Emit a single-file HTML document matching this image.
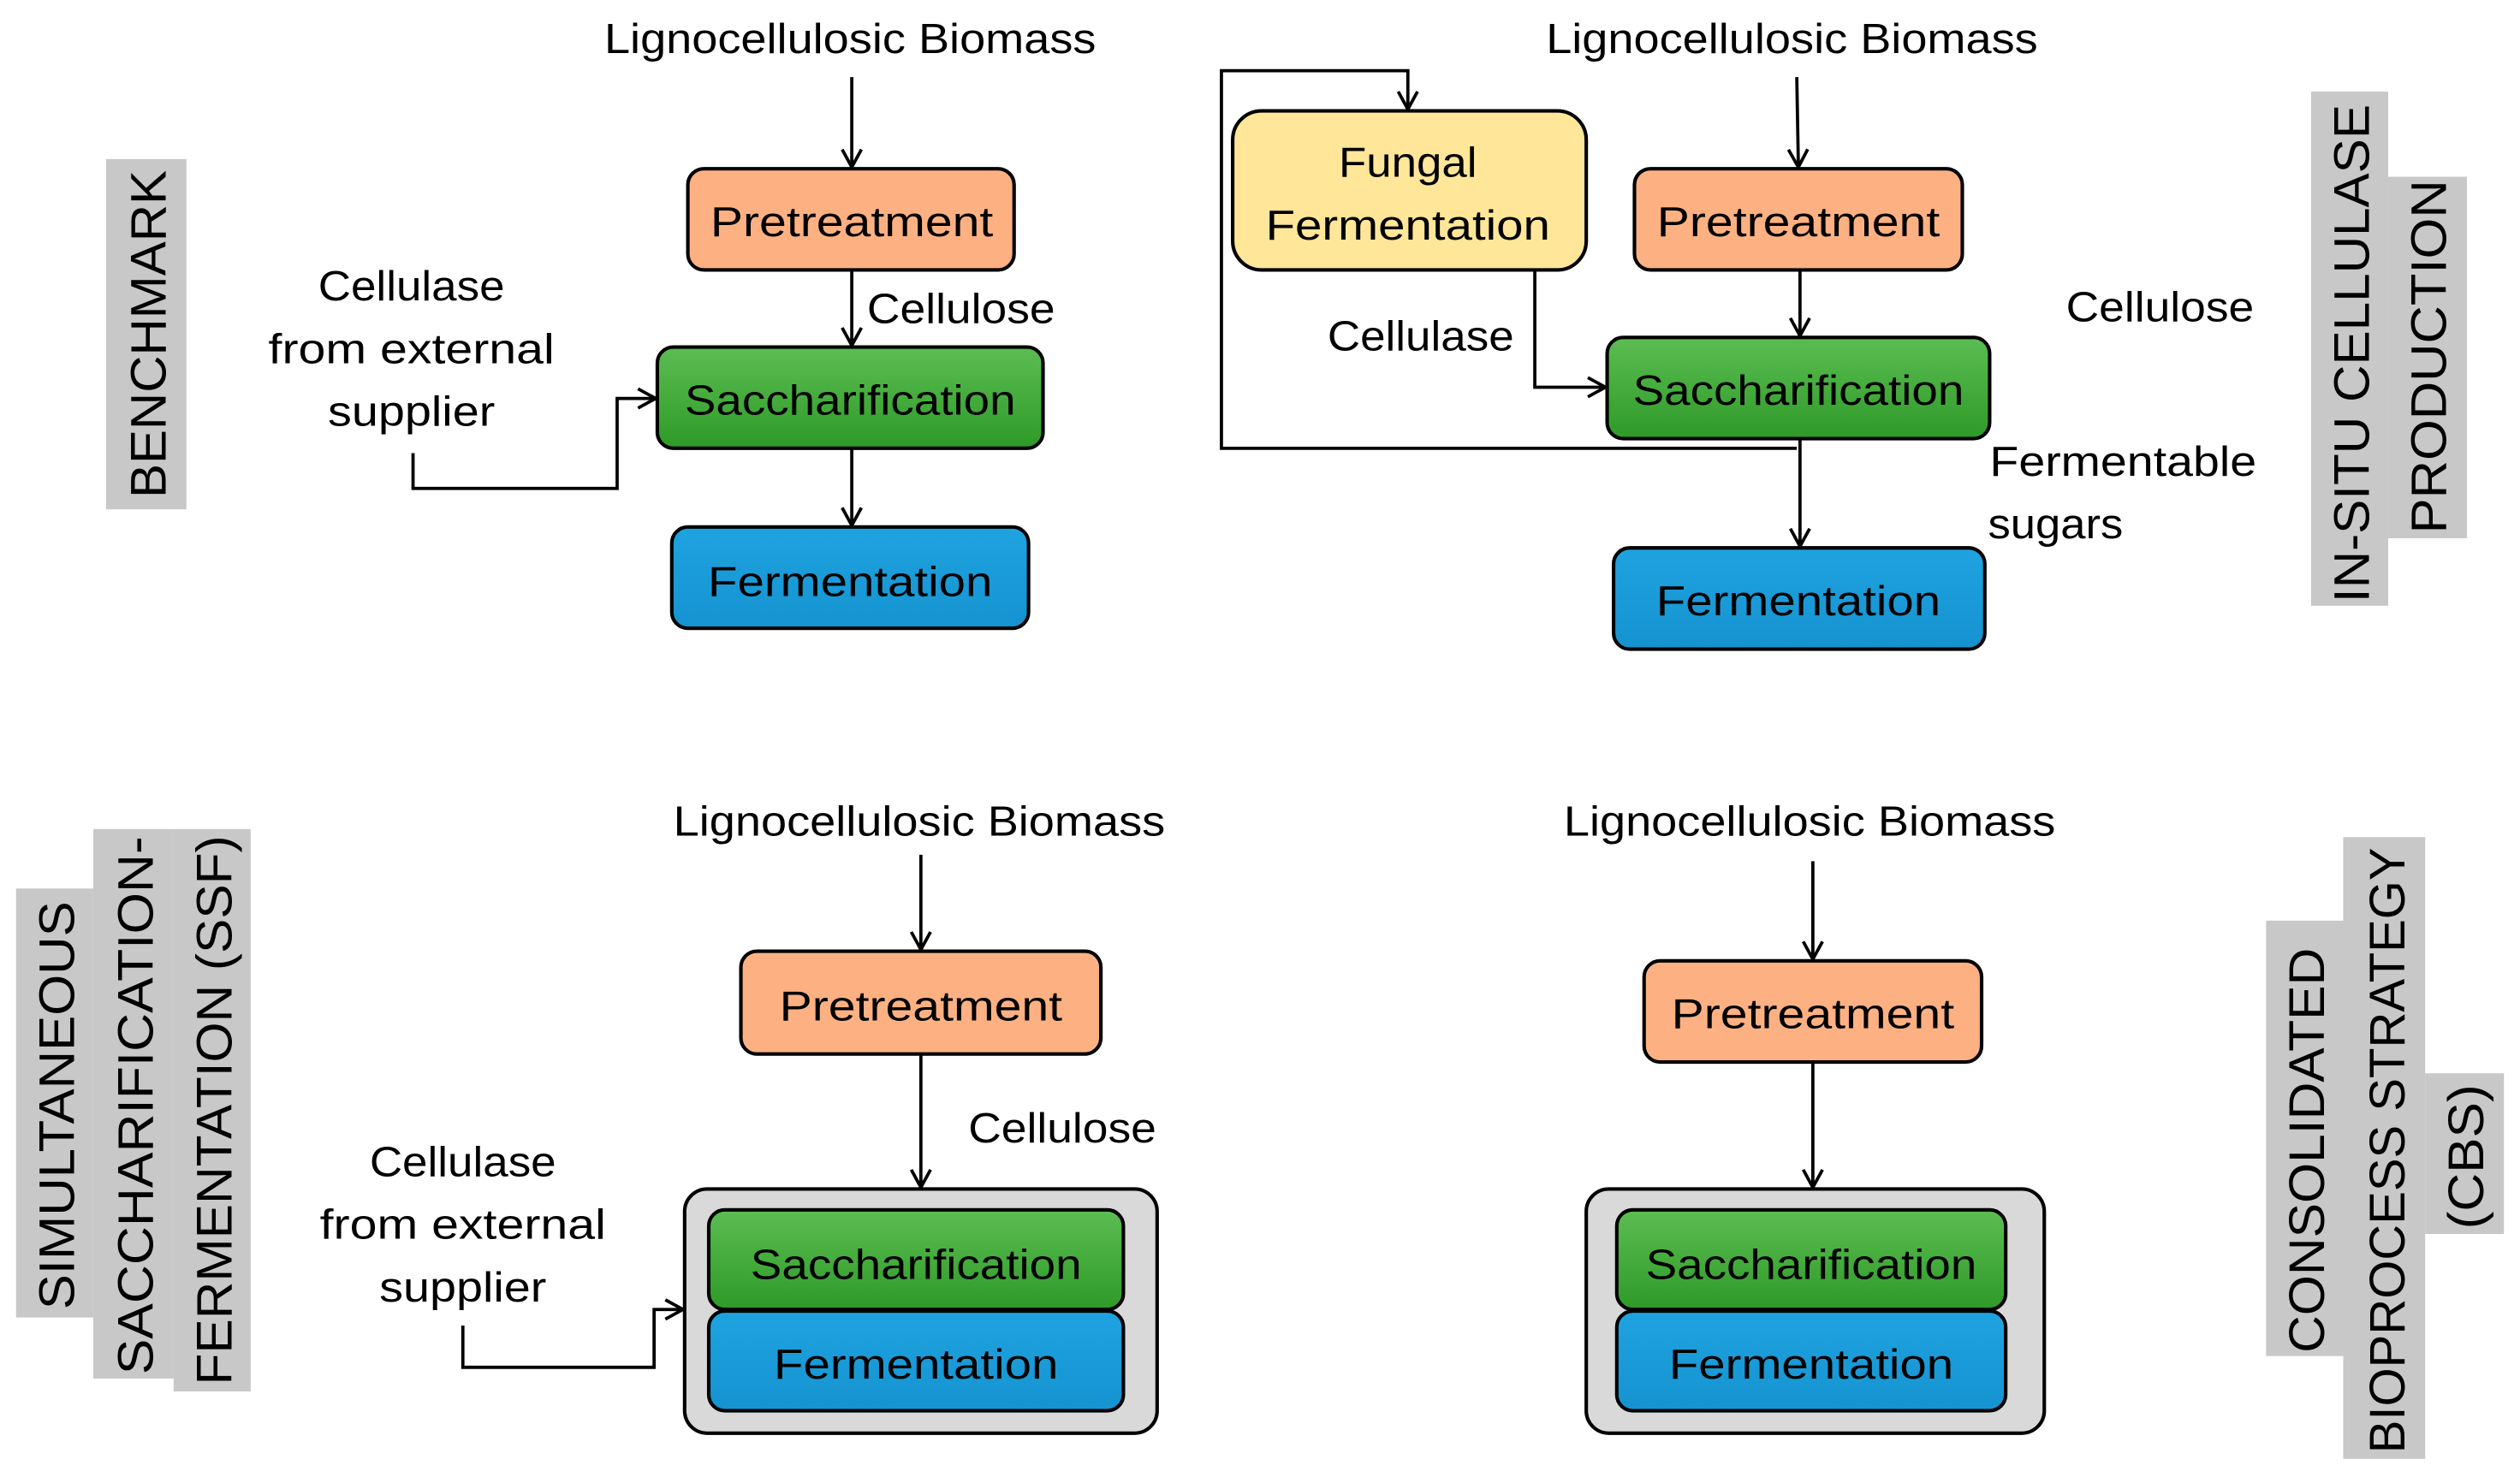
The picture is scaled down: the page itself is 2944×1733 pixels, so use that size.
<!DOCTYPE html>
<html><head><meta charset="utf-8"><style>html,body{margin:0;padding:0;background:#fff}svg{display:block}</style></head>
<body>
<svg width="2944" height="1733" viewBox="0 0 1568 923" preserveAspectRatio="none" xmlns="http://www.w3.org/2000/svg" font-family="Liberation Sans, sans-serif">
<defs>
<linearGradient id="g" x1="0" y1="0" x2="0" y2="1"><stop offset="0" stop-color="#5cbd52"/><stop offset="1" stop-color="#2e9a28"/></linearGradient>
<linearGradient id="b" x1="0" y1="0" x2="0" y2="1"><stop offset="0" stop-color="#1fa3e0"/><stop offset="1" stop-color="#1593d0"/></linearGradient>
<marker id="a" markerWidth="14" markerHeight="14" refX="12" refY="7" orient="auto" markerUnits="userSpaceOnUse"><path d="M1,1 L12,7 L1,13" fill="none" stroke="#000" stroke-width="2"/></marker>
</defs>
<rect width="1568" height="923" fill="#fff"/>
<g stroke="#000" stroke-width="2.2">
<!-- benchmark boxes -->
<rect x="428" y="105" width="203" height="63" rx="10" fill="#fdb183"/>
<rect x="409" y="216" width="240" height="63" rx="10" fill="url(#g)"/>
<rect x="418" y="328" width="222" height="63" rx="10" fill="url(#b)"/>
<!-- in-situ -->
<rect x="767" y="69" width="220" height="99" rx="18" fill="#ffe699"/>
<rect x="1017" y="105" width="204" height="63" rx="10" fill="#fdb183"/>
<rect x="1000" y="210" width="238" height="63" rx="10" fill="url(#g)"/>
<rect x="1004" y="341" width="231" height="63" rx="10" fill="url(#b)"/>
<!-- SSF -->
<rect x="461" y="592" width="224" height="64" rx="10" fill="#fdb183"/>
<rect x="426" y="740" width="294" height="152" rx="14" fill="#d9d9d9"/>
<rect x="441" y="753" width="258" height="62" rx="10" fill="url(#g)"/>
<rect x="441" y="816" width="258" height="62" rx="10" fill="url(#b)"/>
<!-- CBS -->
<rect x="1023" y="598" width="210" height="63" rx="10" fill="#fdb183"/>
<rect x="987" y="740" width="285" height="152" rx="14" fill="#d9d9d9"/>
<rect x="1006" y="753" width="242" height="62" rx="10" fill="url(#g)"/>
<rect x="1006" y="816" width="242" height="62" rx="10" fill="url(#b)"/>
</g>
<g stroke="#000" stroke-width="2" fill="none">
<path d="M530,48 V104" marker-end="url(#a)"/>
<path d="M530,168 V215" marker-end="url(#a)"/>
<path d="M530,279 V327" marker-end="url(#a)"/>
<path d="M257,282 V304 H384 V248 H408" marker-end="url(#a)"/>
<path d="M1118,48 L1119,104" marker-end="url(#a)"/>
<path d="M1120,168 V209" marker-end="url(#a)"/>
<path d="M1120,273 V340" marker-end="url(#a)"/>
<path d="M1118,279 H760 V44 H876 V68" marker-end="url(#a)"/>
<path d="M955,168 V241 H999" marker-end="url(#a)"/>
<path d="M573,532 V591" marker-end="url(#a)"/>
<path d="M573,656 V739" marker-end="url(#a)"/>
<path d="M288,825 V851 H407 V815 H425" marker-end="url(#a)"/>
<path d="M1128,536 V597" marker-end="url(#a)"/>
<path d="M1128,661 V739" marker-end="url(#a)"/>
</g>
<g font-size="26" fill="#000" text-anchor="middle" lengthAdjust="spacingAndGlyphs">
<text x="529" y="33" textLength="306" lengthAdjust="spacingAndGlyphs">Lignocellulosic Biomass</text>
<text x="1115" y="33" textLength="306" lengthAdjust="spacingAndGlyphs">Lignocellulosic Biomass</text>
<text x="572" y="520" textLength="306" lengthAdjust="spacingAndGlyphs">Lignocellulosic Biomass</text>
<text x="1126" y="520" textLength="306" lengthAdjust="spacingAndGlyphs">Lignocellulosic Biomass</text>
<text x="530" y="147" textLength="176" lengthAdjust="spacingAndGlyphs">Pretreatment</text>
<text x="1119" y="147" textLength="176" lengthAdjust="spacingAndGlyphs">Pretreatment</text>
<text x="573" y="635" textLength="176" lengthAdjust="spacingAndGlyphs">Pretreatment</text>
<text x="1128" y="640" textLength="176" lengthAdjust="spacingAndGlyphs">Pretreatment</text>
<text x="529" y="258" textLength="206" lengthAdjust="spacingAndGlyphs">Saccharification</text>
<text x="1119" y="252" textLength="206" lengthAdjust="spacingAndGlyphs">Saccharification</text>
<text x="570" y="796" textLength="206" lengthAdjust="spacingAndGlyphs">Saccharification</text>
<text x="1127" y="796" textLength="206" lengthAdjust="spacingAndGlyphs">Saccharification</text>
<text x="529" y="371" textLength="177" lengthAdjust="spacingAndGlyphs">Fermentation</text>
<text x="1119" y="383" textLength="177" lengthAdjust="spacingAndGlyphs">Fermentation</text>
<text x="570" y="858" textLength="177" lengthAdjust="spacingAndGlyphs">Fermentation</text>
<text x="1127" y="858" textLength="177" lengthAdjust="spacingAndGlyphs">Fermentation</text>
<text x="876" y="110" textLength="86" lengthAdjust="spacingAndGlyphs">Fungal</text>
<text x="876" y="149" textLength="177" lengthAdjust="spacingAndGlyphs">Fermentation</text>
<text x="598" y="201" textLength="117" lengthAdjust="spacingAndGlyphs">Cellulose</text>
<text x="1344" y="200" textLength="117" lengthAdjust="spacingAndGlyphs">Cellulose</text>
<text x="661" y="711" textLength="117" lengthAdjust="spacingAndGlyphs">Cellulose</text>
<text x="884" y="218" textLength="116" lengthAdjust="spacingAndGlyphs">Cellulase</text>
<text x="256" y="187" textLength="116" lengthAdjust="spacingAndGlyphs">Cellulase</text>
<text x="256" y="226" textLength="178" lengthAdjust="spacingAndGlyphs">from external</text>
<text x="256" y="265" textLength="104" lengthAdjust="spacingAndGlyphs">supplier</text>
<text x="288" y="732" textLength="116" lengthAdjust="spacingAndGlyphs">Cellulase</text>
<text x="288" y="771" textLength="178" lengthAdjust="spacingAndGlyphs">from external</text>
<text x="288" y="810" textLength="104" lengthAdjust="spacingAndGlyphs">supplier</text>
<text x="1321" y="296" textLength="166" lengthAdjust="spacingAndGlyphs">Fermentable</text>
<text x="1279" y="335" textLength="84" lengthAdjust="spacingAndGlyphs">sugars</text>
</g>
<!-- side labels -->
<g fill="#c8c8c8">
<rect x="66" y="99" width="50" height="218"/>
<rect x="1438" y="57" width="48" height="320"/>
<rect x="1486" y="110" width="49" height="225"/>
<rect x="10" y="553" width="48" height="267"/>
<rect x="58" y="516" width="50" height="342"/>
<rect x="108" y="516" width="48" height="350"/>
<rect x="1410" y="573" width="48" height="271"/>
<rect x="1458" y="521" width="51" height="387"/>
<rect x="1509" y="668" width="49" height="100"/>
</g>
<g font-size="31" fill="#000" text-anchor="middle">
<text transform="translate(103,208) rotate(-90)" textLength="204" lengthAdjust="spacingAndGlyphs">BENCHMARK</text>
<text transform="translate(1474,220) rotate(-90)" textLength="310" lengthAdjust="spacingAndGlyphs">IN-SITU CELLULASE</text>
<text transform="translate(1522,222) rotate(-90)" textLength="220" lengthAdjust="spacingAndGlyphs">PRODUCTION</text>
<text transform="translate(46,688) rotate(-90)" textLength="254" lengthAdjust="spacingAndGlyphs">SIMULTANEOUS</text>
<text transform="translate(95,688) rotate(-90)" textLength="335" lengthAdjust="spacingAndGlyphs">SACCHARIFICATION-</text>
<text transform="translate(144,691) rotate(-90)" textLength="342" lengthAdjust="spacingAndGlyphs">FERMENTATION (SSF)</text>
<text transform="translate(1446,716) rotate(-90)" textLength="252" lengthAdjust="spacingAndGlyphs">CONSOLIDATED</text>
<text transform="translate(1496,716) rotate(-90)" textLength="377" lengthAdjust="spacingAndGlyphs">BIOPROCESS STRATEGY</text>
<text transform="translate(1545,720) rotate(-90)" textLength="90" lengthAdjust="spacingAndGlyphs">(CBS)</text>
</g>
</svg>
</body></html>
